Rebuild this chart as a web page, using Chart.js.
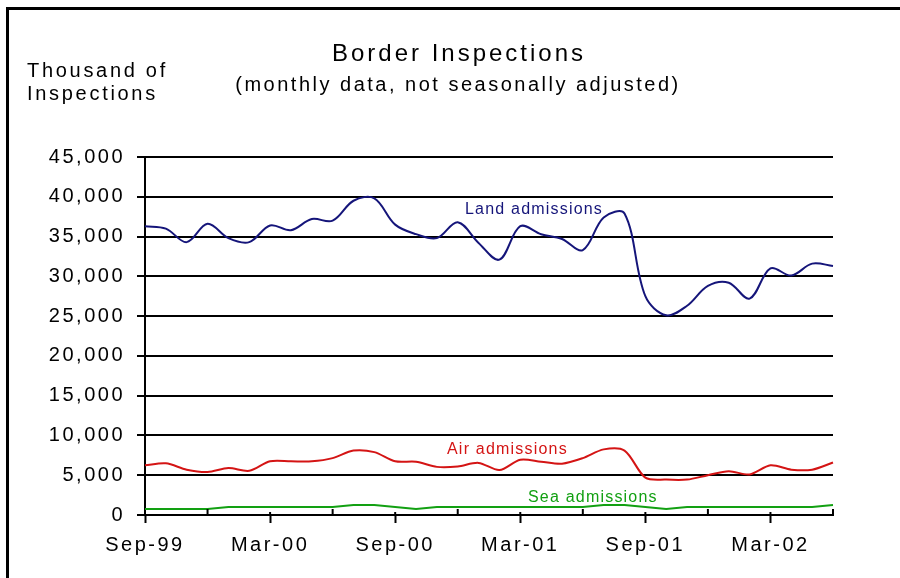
<!DOCTYPE html>
<html>
<head>
<meta charset="utf-8">
<title>Border Inspections</title>
<script src="https://cdn.jsdelivr.net/npm/chart.js@4.4.1/dist/chart.umd.min.js"></script>
<style>
  html, body { margin: 0; padding: 0; background: #fff; }
  canvas { display: block; }
</style>
</head>
<body>
<canvas id="chart" width="900" height="578"></canvas>
<script>
// monthly categories, Sep-99 .. Jun-02
const months = [
    'Sep-99', 'Oct-99', 'Nov-99', 'Dec-99', 'Jan-00', 'Feb-00', 'Mar-00', 'Apr-00', 'May-00', 'Jun-00', 'Jul-00', 'Aug-00',
    'Sep-00', 'Oct-00', 'Nov-00', 'Dec-00', 'Jan-01', 'Feb-01', 'Mar-01', 'Apr-01', 'May-01', 'Jun-01', 'Jul-01', 'Aug-01',
    'Sep-01', 'Oct-01', 'Nov-01', 'Dec-01', 'Jan-02', 'Feb-02', 'Mar-02', 'Apr-02', 'May-02', 'Jun-02'
];
const tickLabels = ['Sep-99', 'Mar-00', 'Sep-00', 'Mar-01', 'Sep-01', 'Mar-02'];

const land = [
    36300, 36000, 34300, 36600, 34800, 34300, 36400, 35800, 37200, 37000, 39500, 39800,
    36500, 35300, 34800, 36800, 34200, 32100, 36300, 35300, 34700, 33300, 37400, 37900,
    27500, 25100, 26300, 28800, 29200, 27200, 31000, 30100, 31600, 31300
];
const air = [
    6250, 6500, 5700, 5400, 5900, 5550, 6750, 6750, 6750, 7150, 8100, 7900,
    6750, 6700, 6050, 6100, 6550, 5650, 6950, 6700, 6450, 7150, 8250, 8100,
    4700, 4450, 4450, 5000, 5500, 5100, 6250, 5700, 5700, 6600
];
const sea = [
    750, 750, 750, 750, 1000, 1000, 1000, 1000, 1000, 1000, 1250, 1250,
    1000, 750, 1000, 1000, 1000, 1000, 1000, 1000, 1000, 1000, 1250, 1250,
    1000, 750, 1000, 1000, 1000, 1000, 1000, 1000, 1000, 1250
];

const FONT = '"Liberation Sans", Arial, sans-serif';
const NAVY = '#15157a';
const RED = '#d41414';
const GREEN = '#12a012';

Chart.defaults.font.family = FONT;
Chart.defaults.color = '#000';

// frame, titles, line labels and the small inside ticks
const decorations = {
    id: 'decorations',
    beforeDraw(chart) {
        const c = chart.ctx;
        c.letterSpacing = '2.5px';
        c.save();
        c.fillStyle = '#fff';
        c.fillRect(0, 0, chart.width, chart.height);
        c.strokeStyle = '#000';
        c.lineWidth = 3;
        c.beginPath();
        c.moveTo(7.5, 600);
        c.lineTo(7.5, 8.5);
        c.lineTo(910, 8.5);
        c.stroke();
        c.restore();
    },
    afterDraw(chart) {
        const c = chart.ctx;
        const x = chart.scales.x;
        const bottom = chart.chartArea.bottom;
        c.save();
        c.strokeStyle = '#000';
        c.lineWidth = 2;
        months.forEach((m, i) => {
            if (i % 3 !== 0) return;
            const px = x.getPixelForValue(i);
            c.beginPath();
            c.moveTo(px, bottom);
            c.lineTo(px, bottom - (i % 6 === 0 ? 3 : 6));
            c.stroke();
        });

        c.fillStyle = '#000';
        c.textBaseline = 'alphabetic';
        c.textAlign = 'center';
        c.letterSpacing = '3px';
        c.font = '24px ' + FONT;
        c.fillText('Border Inspections', 459, 61);
        c.letterSpacing = '2.5px';
        c.font = '20px ' + FONT;
        c.fillText('(monthly data, not seasonally adjusted)', 458, 91);

        c.textAlign = 'left';
        c.letterSpacing = '2.7px';
        c.fillText('Thousand of', 27, 77);
        c.fillText('Inspections', 27, 100);

        c.font = '16px ' + FONT;
        c.letterSpacing = '1.2px';
        c.fillStyle = NAVY;
        c.fillText('Land admissions', 465, 214);
        c.fillStyle = RED;
        c.fillText('Air admissions', 447, 454);
        c.fillStyle = GREEN;
        c.fillText('Sea admissions', 528, 502);
        c.restore();
    }
};

new Chart(document.getElementById('chart'), {
    type: 'line',
    data: {
        labels: months,
        datasets: [
            { label: 'Land admissions', data: land, borderColor: NAVY, borderWidth: 2, tension: 0.35 },
            { label: 'Air admissions', data: air, borderColor: RED, borderWidth: 2, tension: 0.3 },
            { label: 'Sea admissions', data: sea, borderColor: GREEN, borderWidth: 2, tension: 0 }
        ]
    },
    options: {
        responsive: false,
        devicePixelRatio: 1,
        animation: false,
        elements: { point: { radius: 0 } },
        layout: { padding: { top: 157, right: 67, left: 0, bottom: 0 } },
        plugins: {
            legend: { display: false },
            tooltip: { enabled: false }
        },
        scales: {
            x: {
                type: 'category',
                offset: false,
                afterFit: axis => { axis.height = 63; },
                border: { display: true, color: '#000', width: 2 },
                grid: {
                    drawOnChartArea: false,
                    drawTicks: true,
                    tickLength: 8,
                    tickWidth: 2,
                    tickColor: ctx => (ctx.index % 6 === 0 ? '#000' : 'rgba(0,0,0,0)')
                },
                ticks: {
                    autoSkip: false,
                    maxRotation: 0,
                    padding: 10,
                    font: { size: 20 },
                    color: '#000',
                    callback: (value, index) => (tickLabels.includes(months[index]) ? months[index] : '')
                }
            },
            y: {
                min: 0,
                max: 45000,
                afterFit: axis => { axis.width = 145; },
                border: { display: true, color: '#000', width: 2 },
                grid: {
                    color: '#000',
                    lineWidth: 2,
                    tickLength: 8,
                    tickColor: '#000',
                    tickWidth: 2
                },
                ticks: {
                    stepSize: 5000,
                    padding: 12,
                    font: { size: 20 },
                    color: '#000',
                    callback: v => v.toLocaleString('en-US')
                }
            }
        }
    },
    plugins: [decorations]
});
</script>
</body>
</html>
